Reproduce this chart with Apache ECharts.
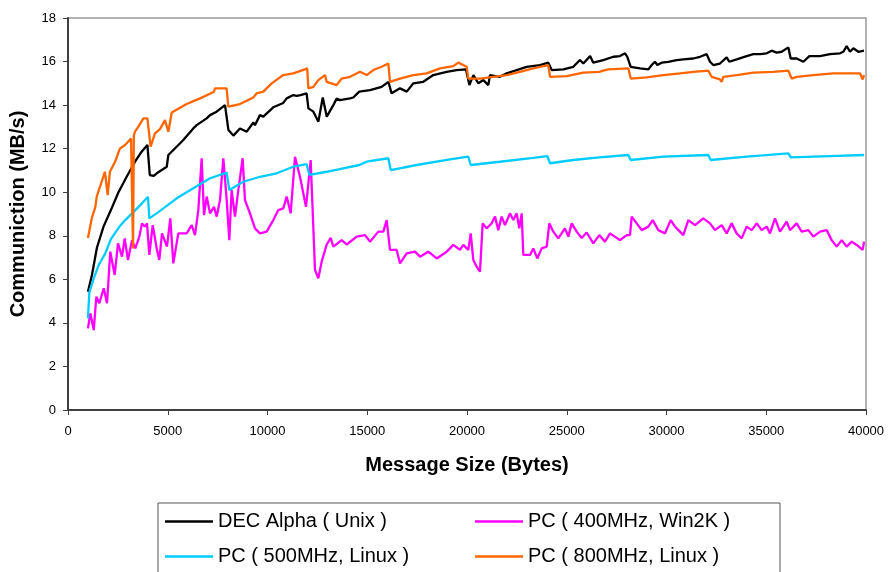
<!DOCTYPE html>
<html>
<head>
<meta charset="utf-8">
<script src="https://cdn.jsdelivr.net/npm/echarts@6/dist/echarts.min.js"></script>
<style>
html,body{margin:0;padding:0;background:#fff;}
#chart{width:888px;height:572px;}
</style>
</head>
<body>
<div id="chart"></div>
<script>
// ---- data (x = message size in bytes, y = MB/s) ----
var seriesNames = ['DEC Alpha ( Unix )', 'PC ( 400MHz, Win2K )', 'PC ( 500MHz, Linux )', 'PC ( 800MHz, Linux )'];
var xTicks = [0, 5000, 10000, 15000, 20000, 25000, 30000, 35000, 40000];
var yTicks = [0, 2, 4, 6, 8, 10, 12, 14, 16, 18];

var decAlpha = [
[1000,5.43],[1200,6.2],[1450,7.45],[1780,8.42],[2150,9.18],[2530,10.0],[2940,10.71],[3360,11.4],[3690,11.86],[3980,12.17],
[4100,10.79],[4300,10.75],[4450,10.87],[4950,11.17],[5030,11.71],[5280,11.94],[5620,12.25],[5780,12.4],[6280,12.93],[6450,13.08],
[6950,13.39],[7120,13.54],[7450,13.7],[7870,14.0],[7960,14.08],[8040,12.86],[8120,12.78],[8290,12.6],[8620,12.93],[8710,13.0],
[8960,12.78],[9040,12.86],[9290,13.2],[9370,13.08],[9620,13.54],[9790,13.47],[10290,13.9],[10790,14.1],[10960,14.31],[11290,14.46],
[11460,14.42],[11650,14.46],[11960,14.54],[12050,13.85],[12300,13.7],[12550,13.24],[12770,14.35],[12970,13.47],[13300,14.0],[13470,14.3],
[13630,14.23],[14135,14.31],[14300,14.35],[14600,14.62],[15140,14.69],[15720,14.84],[16060,15.07],[16220,14.54],[16640,14.77],[16980,14.62],
[17310,15.0],[17810,15.07],[18310,15.38],[18980,15.53],[19480,15.61],[19950,15.64],[20120,14.92],[20320,15.38],[20570,15.0],[20820,15.15],
[21070,14.92],[21150,15.38],[21650,15.3],[21990,15.46],[22490,15.61],[22990,15.76],[23660,15.84],[24075,15.95],[24245,15.61],[24830,15.64],
[25330,15.76],[25660,16.07],[25830,15.91],[26170,16.25],[26330,15.95],[26830,16.07],[27335,16.22],[27670,16.25],[27920,16.38],[28036,16.22],
[28206,15.76],[28670,15.69],[29090,15.64],[29260,15.84],[29420,15.99],[29540,15.84],[29760,15.95],[30090,15.99],[30510,16.07],[30840,16.1],
[31340,16.14],[31680,16.22],[32015,16.34],[32180,15.99],[32346,15.84],[32680,15.91],[33015,16.19],[33147,15.99],[33517,16.1],[34018,16.25],
[34353,16.34],[34687,16.34],[35021,16.38],[35272,16.5],[35522,16.41],[35773,16.45],[36108,16.65],[36225,16.14],[36525,16.14],[36859,15.99],
[37161,16.25],[37695,16.25],[38196,16.34],[38698,16.38],[38865,16.45],[39032,16.71],[39199,16.45],[39366,16.61],[39616,16.45],[39900,16.5]
];

var pc400 = [
[1000,3.75],[1120,4.44],[1290,3.67],[1420,5.2],[1570,4.9],[1790,5.59],[1955,4.9],[2120,7.27],[2340,6.2],[2506,7.65],
[2707,7.04],[2840,7.88],[3008,6.89],[3208,7.8],[3375,7.42],[3576,7.96],[3709,8.57],[3843,8.42],[3960,8.57],[4077,7.12],
[4245,8.49],[4461,7.35],[4577,6.89],[4712,8.11],[4962,7.5],[5128,8.8],[5279,6.73],[5529,8.11],[5950,8.11],[6200,8.49],
[6366,8.03],[6533,9.18],[6700,11.56],[6817,8.95],[6952,9.8],[7118,9.03],[7318,9.33],[7453,8.88],[7619,9.64],[7786,11.56],
[7955,9.64],[8086,7.8],[8203,10.1],[8370,8.88],[8537,10.1],[8754,11.56],[8872,9.64],[9122,9.03],[9373,8.34],[9623,8.11],
[9958,8.19],[10291,8.72],[10542,9.18],[10793,9.26],[10960,9.8],[11162,9.03],[11378,11.63],[11629,10.71],[11930,9.33],[12164,11.48],
[12381,6.43],[12547,6.05],[12716,6.81],[12967,7.6],[13167,7.9],[13300,7.5],[13718,7.8],[13969,7.6],[14471,7.96],[14887,8.03],
[15138,7.73],[15555,8.19],[15806,8.19],[15973,8.72],[16140,7.35],[16475,7.35],[16642,6.73],[16976,7.19],[17393,7.27],[17644,7.04],
[18060,7.27],[18481,6.96],[18982,7.27],[19316,7.58],[19649,7.35],[19815,7.58],[20066,7.35],[20186,8.11],[20316,6.89],[20485,6.58],
[20651,6.35],[20786,8.57],[20986,8.34],[21237,8.57],[21404,8.88],[21570,8.26],[21738,8.88],[21904,8.49],[22155,9.03],[22322,8.72],
[22490,9.03],[22620,8.34],[22740,9.03],[22823,7.12],[23157,7.12],[23324,7.42],[23525,6.96],[23744,7.42],[23995,7.5],[24126,8.57],
[24325,8.19],[24576,7.88],[24912,8.34],[25078,7.96],[25246,8.57],[25497,8.19],[25748,7.9],[25999,8.15],[26332,7.65],[26632,8.03],
[26917,7.73],[27168,8.11],[27669,7.8],[28004,8.03],[28171,8.03],[28256,8.88],[28506,8.57],[28757,8.26],[29088,8.42],[29309,8.72],
[29589,8.26],[29925,8.11],[30210,8.72],[30426,8.42],[30843,8.03],[31094,8.72],[31428,8.49],[31845,8.8],[32180,8.57],[32431,8.26],
[32765,8.49],[33015,8.11],[33266,8.57],[33517,8.11],[33768,7.88],[34018,8.42],[34269,8.26],[34520,8.57],[34770,8.26],[35021,8.42],
[35188,8.11],[35438,8.8],[35689,8.19],[36024,8.65],[36191,8.26],[36525,8.57],[36776,8.19],[37110,8.26],[37360,7.96],[37695,8.19],
[38029,8.26],[38280,7.8],[38531,7.5],[38781,7.8],[39032,7.5],[39283,7.73],[39533,7.58],[39834,7.35],[39900,7.73]
];

var pc500 = [
[1000,4.21],[1070,5.4],[1290,6.04],[1540,6.66],[1870,7.19],[2150,7.85],[2560,8.4],[2870,8.72],[3290,9.1],[3710,9.49],
[4010,9.79],[4077,8.8],[4546,9.1],[5213,9.56],[5448,9.72],[6281,10.18],[7118,10.64],[7955,10.9],[8086,10.1],[8787,10.48],
[9623,10.71],[10461,10.87],[11293,11.17],[11964,11.29],[12097,10.8],[12967,10.94],[13800,11.1],[14602,11.25],[14972,11.4],[16056,11.56],
[16175,11.02],[17476,11.25],[19148,11.51],[20066,11.63],[20186,11.25],[21654,11.4],[23324,11.58],[24025,11.66],[24161,11.33],[25329,11.48],
[26632,11.6],[28088,11.71],[28206,11.48],[29840,11.63],[32096,11.71],[32215,11.48],[34018,11.63],[36108,11.78],[36225,11.6],[38196,11.66],
[39900,11.71]
];

var pc800 = [
[1000,7.9],[1190,8.8],[1370,9.33],[1440,9.8],[1850,10.94],[1990,9.87],[2100,10.94],[2360,11.4],[2600,12.0],[2860,12.17],
[3160,12.47],[3240,12.5],[3260,7.42],[3300,12.6],[3360,12.78],[3520,13.0],[3780,13.39],[3980,13.39],[4140,12.09],[4360,12.7],
[4610,12.9],[4860,13.31],[5030,12.78],[5200,13.66],[5950,14.05],[6620,14.31],[7300,14.6],[7370,14.77],[7950,14.77],[8036,13.93],
[8620,14.05],[9290,14.35],[9460,14.54],[9790,14.62],[10210,15.0],[10790,15.38],[11290,15.46],[11880,15.64],[11990,15.69],[12050,14.77],
[12300,14.84],[12547,15.15],[12880,15.38],[12967,15.07],[13467,14.92],[13718,15.22],[14135,15.3],[14636,15.53],[14972,15.38],[15304,15.61],
[15723,15.76],[16056,15.91],[16140,15.07],[16642,15.22],[17309,15.38],[17978,15.46],[18647,15.69],[19313,15.79],[19565,15.95],[19985,15.76],
[20066,15.22],[20651,15.22],[21320,15.3],[21988,15.38],[22657,15.53],[23324,15.69],[24075,15.84],[24161,15.3],[24995,15.33],[25831,15.49],
[26632,15.53],[26833,15.58],[26900,15.49],[27083,15.64],[28088,15.69],[28206,15.22],[29005,15.27],[29840,15.38],[30677,15.46],[31344,15.53],
[32096,15.58],[32264,15.3],[32680,15.18],[32765,15.07],[32848,15.3],[33517,15.38],[34353,15.49],[35355,15.53],[36108,15.58],[36275,15.22],
[36525,15.3],[37360,15.38],[38364,15.46],[39700,15.46],[39834,15.18],[39900,15.38]
];

var seriesColors = ['#000000', '#ff00ff', '#00ccff', '#ff6600'];
var seriesData = [decAlpha, pc400, pc500, pc800];

var FONT = '"Liberation Sans", Arial, sans-serif';
var chart = echarts.init(document.getElementById('chart'), null, {renderer: 'canvas'});

var option = {
  animation: false,
  backgroundColor: '#ffffff',
  grid: {
    left: 68, right: 22, top: 18, bottom: 162,
    show: true, borderColor: '#9a9a9a', borderWidth: 1.5, backgroundColor: 'transparent'
  },
  xAxis: {
    type: 'value',
    min: xTicks[0], max: xTicks[xTicks.length - 1], interval: xTicks[1] - xTicks[0],
    name: 'Message Size (Bytes)', nameLocation: 'middle', nameGap: 45,
    nameTextStyle: {fontSize: 20, fontWeight: 'bold', color: '#000', fontFamily: FONT},
    axisLine: {show: true, lineStyle: {color: '#404040', width: 2}},
    axisTick: {show: true, length: 5, inside: false, lineStyle: {color: '#404040', width: 1}},
    axisLabel: {color: '#000', fontSize: 13, fontFamily: FONT, margin: 15,
      formatter: function (v) { return String(v); }},
    splitLine: {show: false}
  },
  yAxis: {
    type: 'value',
    min: yTicks[0], max: yTicks[yTicks.length - 1], interval: yTicks[1] - yTicks[0],
    name: 'Communiction (MB/s)', nameLocation: 'middle', nameGap: 40, nameRotate: 90,
    nameTextStyle: {fontSize: 20, fontWeight: 'bold', color: '#000', fontFamily: FONT},
    axisLine: {show: true, lineStyle: {color: '#404040', width: 2}},
    axisTick: {show: true, length: 5, inside: false, lineStyle: {color: '#404040', width: 1}},
    axisLabel: {color: '#000', fontSize: 13, fontFamily: FONT, margin: 12,
      formatter: function (v) { return String(v); }},
    splitLine: {show: false}
  },
  legend: {
    show: true,
    left: 158, top: 503, width: 620,
    orient: 'horizontal',
    icon: 'rect',
    itemWidth: 48, itemHeight: 2.5, itemGap: 10,
    padding: [6, 5, 10, 7],
    borderColor: '#555555', borderWidth: 1,
    backgroundColor: '#ffffff',
    textStyle: {fontSize: 20, color: '#000', fontFamily: FONT, width: 247, lineHeight: 25},
    data: seriesNames
  },
  series: seriesNames.map(function (name, i) {
    return {
      name: name,
      type: 'line',
      symbol: 'none',
      showSymbol: false,
      color: seriesColors[i],
      itemStyle: {color: seriesColors[i]},
      lineStyle: {color: seriesColors[i], width: 2.3},
      data: seriesData[i],
      z: 2 + i
    };
  })
};
chart.setOption(option);
</script>
</body>
</html>
